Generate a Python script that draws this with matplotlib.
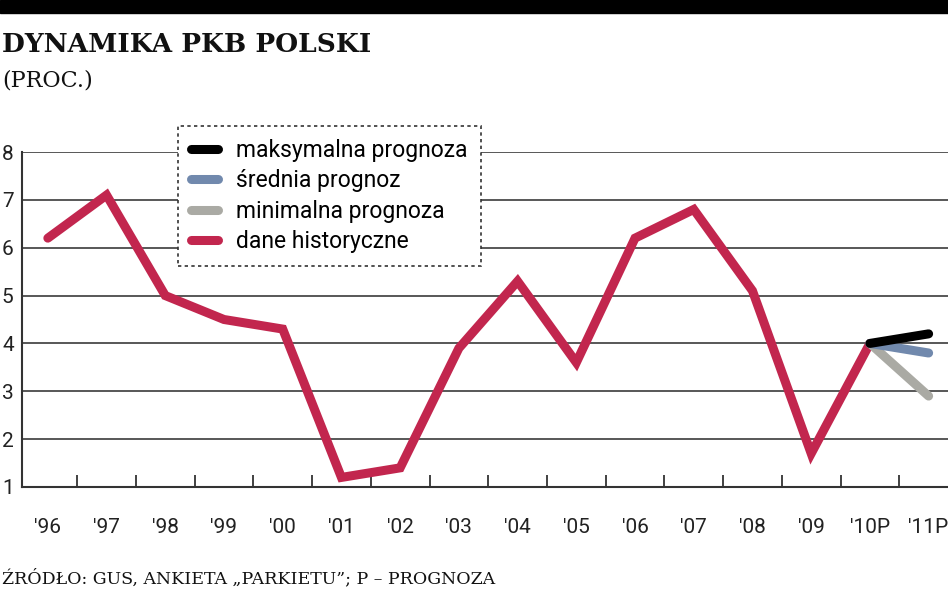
import numpy as np
import matplotlib
matplotlib.use("Agg")
import matplotlib.pyplot as plt
from matplotlib.ticker import FixedLocator

# data
years = ["'96", "'97", "'98", "'99", "'00", "'01", "'02", "'03", "'04", "'05",
         "'06", "'07", "'08", "'09", "'10P", "'11P"]
historical = [6.2, 7.1, 5.0, 4.5, 4.3, 1.2, 1.4, 3.9, 5.3, 3.6, 6.2, 6.8, 5.1, 1.7, 4.0]
forecast_max = [4.0, 4.2]
forecast_mean = [4.0, 3.8]
forecast_min = [4.0, 2.9]

red = '#c2264e'
blue = '#7189ad'
grey = '#aaaaa4'

fig = plt.figure(figsize=(9.48, 5.93), dpi=100)
W, H = 948, 593
ax = fig.add_axes([22 / W, (H - 487) / H, (W - 22) / W, (487 - 152) / H])

x = np.arange(len(years))
x_hist = x[:len(historical)]
x_fc = x[-2:]

ax.plot(x_hist, historical, color=red, lw=6.5, solid_capstyle='round',
        solid_joinstyle='miter', label='dane historyczne', zorder=3)
ax.plot(x_fc, forecast_min, color=grey, lw=6.5, solid_capstyle='round',
        label='minimalna prognoza', zorder=4)
ax.plot(x_fc, forecast_mean, color=blue, lw=6.5, solid_capstyle='round',
        label='średnia prognoz', zorder=5)
ax.plot(x_fc, forecast_max, color='black', lw=6.5, solid_capstyle='round',
        label='maksymalna prognoza', zorder=6)

ax.set_xlim(-0.44, 15.33)
ax.set_ylim(1, 8)

# grid lines
for yv in range(2, 9):
    ax.axhline(yv, color='#4a4a4a', lw=1.3, zorder=1)

for s in ['top', 'right']:
    ax.spines[s].set_visible(False)
ax.spines['left'].set_color('#333333')
ax.spines['bottom'].set_color('#333333')
ax.spines['left'].set_linewidth(1.5)
ax.spines['bottom'].set_linewidth(1.5)

ax.set_xticks(x)
ax.set_xticklabels(years, fontsize=15, family='Roboto', color='#222222')
ax.tick_params(axis='x', length=0, pad=22)
ax.xaxis.set_minor_locator(FixedLocator(x[:-1] + 0.5))
ax.tick_params(axis='x', which='minor', direction='in', length=9, width=1.3,
               color='#333333')

ax.set_yticks(range(1, 9))
ax.set_yticklabels([str(v) for v in range(1, 9)], fontsize=15, family='Roboto',
                   color='#222222')
ax.tick_params(axis='y', length=0, pad=6)

# legend
handles, labels = ax.get_legend_handles_labels()
order = [3, 2, 1, 0]
leg = ax.legend([handles[i] for i in order], [labels[i] for i in order],
                loc='upper left', bbox_to_anchor=((178 - 22) / (W - 22), 1 + 26 / 335),
                borderaxespad=0, frameon=True, handlelength=1.2, handletextpad=0.8,
                labelspacing=0.33, borderpad=0.55, fancybox=False,
                prop={'family': 'Roboto', 'size': 16.5})
frame = leg.get_frame()
frame.set_edgecolor('#333333')
frame.set_linestyle((0, (2, 2)))
frame.set_linewidth(1.2)
frame.set_facecolor('white')
frame.set_alpha(1)
leg.set_zorder(10)

# header and footer
fig.patches.append(plt.Rectangle((0, 1 - 13 / H), 1, 13 / H, transform=fig.transFigure,
                                 color='black', zorder=0))
fig.text(0.002, 1 - 45 / H, 'DYNAMIKA PKB POLSKI', fontsize=19, fontweight='bold',
         family='DejaVu Serif', va='center', ha='left', color='#111111')
fig.text(0.002, 1 - 80 / H, '(PROC.)', fontsize=16, family='DejaVu Serif',
         va='center', ha='left', color='#111111')
fig.text(0.002, 1 - 578 / H, 'ŹRÓDŁO: GUS, ANKIETA „PARKIETU”; P – PROGNOZA',
         fontsize=12.5, family='DejaVu Serif', va='center', ha='left', color='#111111')

fig.savefig('out.png', dpi=100)
